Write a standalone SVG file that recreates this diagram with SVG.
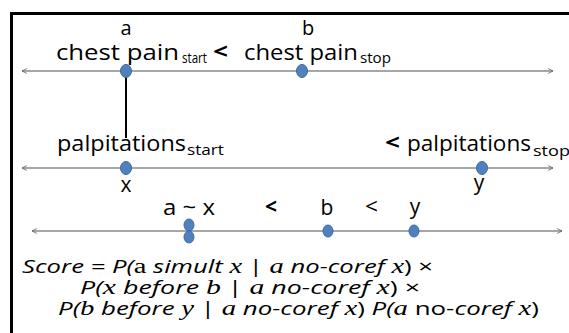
<svg xmlns="http://www.w3.org/2000/svg" width="569" height="333" viewBox="0 0 569 333">
  <style>
    .lbl { font-family: "Open Sans", "Liberation Sans", sans-serif; font-size: 21px; fill: #000; }
    .top { font-family: "Open Sans", "Liberation Sans", sans-serif; font-size: 20px; fill: #000; }
    .sub { font-family: "Open Sans", "Liberation Sans", sans-serif; fill: #000; }
    .lt { font-family: "Open Sans", "Liberation Sans", sans-serif; font-size: 21px; font-weight: bold; fill: #000; }
    .axis { stroke: #8a8a8a; stroke-width: 1.5; fill: none; }
    .dot { fill: #4f81bd; stroke: #3c6aa3; stroke-width: 1; }
    .f { font-family: "Open Sans", "Liberation Sans", sans-serif; font-size: 18px; fill: #000; }
    .it { font-style: italic; }
    .m { font-family: "Liberation Serif", "DejaVu Serif", serif; font-style: italic; font-size: 20px; }
    .mr { font-family: "Liberation Serif", "DejaVu Serif", serif; font-size: 20px; }
  </style>
  <defs>
    <marker id="arr" viewBox="0 0 10 10" refX="9" refY="5" markerWidth="6" markerHeight="6" markerUnits="userSpaceOnUse" orient="auto-start-reverse">
      <path d="M1,1 L9,5 L1,9" fill="none" stroke="#6a6a6a" stroke-width="1.5"/>
    </marker>
  </defs>
  <rect width="569" height="333" fill="#fff"/>
  <rect x="11.5" y="13.5" width="620" height="400" fill="none" stroke="#000" stroke-width="3"/>

  <g id="connectors">
    <line class="axis" x1="22" y1="71" x2="553" y2="71" marker-start="url(#arr)" marker-end="url(#arr)"/>
    <line class="axis" x1="22" y1="168" x2="553" y2="168" marker-start="url(#arr)" marker-end="url(#arr)"/>
    <line class="axis" x1="32" y1="231" x2="562" y2="231" marker-start="url(#arr)" marker-end="url(#arr)"/>
    <line x1="126" y1="77" x2="126" y2="138" stroke="#000" stroke-width="2"/>
  </g>

  <g id="chest-pain-start">
    <text class="top" x="126" y="35" text-anchor="middle">a</text>
    <text class="lbl" x="56" y="60" textLength="123" lengthAdjust="spacingAndGlyphs">chest pain</text>
    <text class="sub" x="182" y="63" font-size="14" textLength="25" lengthAdjust="spacingAndGlyphs">start</text>
    <ellipse class="dot" cx="126" cy="71" rx="5.5" ry="6.5"/>
  </g>
  <text class="lt" x="213" y="59" textLength="15" lengthAdjust="spacingAndGlyphs">&lt;</text>
  <g id="chest-pain-stop">
    <text class="top" x="308" y="35" text-anchor="middle">b</text>
    <text class="lbl" x="244" y="60" textLength="114" lengthAdjust="spacingAndGlyphs">chest pain</text>
    <text class="sub" x="360" y="63" font-size="14" textLength="31" lengthAdjust="spacingAndGlyphs">stop</text>
    <ellipse class="dot" cx="302" cy="71" rx="5.5" ry="6.5"/>
  </g>

  <g id="palpitations-start">
    <text class="lbl" x="57" y="151" textLength="129" lengthAdjust="spacingAndGlyphs">palpitations</text>
    <text class="sub" x="187" y="155" font-size="15" textLength="37" lengthAdjust="spacingAndGlyphs">start</text>
    <ellipse class="dot" cx="126" cy="168" rx="5.5" ry="6.5"/>
    <text class="lbl" x="126" y="192" text-anchor="middle">x</text>
  </g>
  <text class="lt" x="385" y="150" textLength="15" lengthAdjust="spacingAndGlyphs">&lt;</text>
  <g id="palpitations-stop">
    <text class="lbl" x="407" y="151" textLength="124" lengthAdjust="spacingAndGlyphs">palpitations</text>
    <text class="sub" x="533" y="156" font-size="15" textLength="37" lengthAdjust="spacingAndGlyphs">stop</text>
    <ellipse class="dot" cx="482" cy="168" rx="5.5" ry="6.5"/>
    <text class="lbl" x="479" y="190" text-anchor="middle">y</text>
  </g>

  <g id="merged-a-x">
    <text class="lbl" x="163" y="215" textLength="52" lengthAdjust="spacingAndGlyphs">a ~ x</text>
    <ellipse class="dot" cx="189" cy="225" rx="5" ry="6"/>
    <ellipse class="dot" cx="189" cy="237" rx="5" ry="6"/>
  </g>
  <text class="lt" x="265" y="214" textLength="12" lengthAdjust="spacingAndGlyphs">&lt;</text>
  <g id="merged-b">
    <text class="lbl" x="327" y="215" text-anchor="middle">b</text>
    <ellipse class="dot" cx="328" cy="231" rx="5" ry="6"/>
  </g>
  <text class="lbl" x="365" y="214" textLength="13" lengthAdjust="spacingAndGlyphs">&lt;</text>
  <g id="merged-y">
    <text class="lbl" x="415" y="214" text-anchor="middle">y</text>
    <ellipse class="dot" cx="414" cy="231" rx="5" ry="6"/>
  </g>

  <g id="score">
    <text class="f" x="22" y="273" textLength="411" lengthAdjust="spacingAndGlyphs"><tspan class="it">Score = P(</tspan><tspan class="mr">a</tspan><tspan class="it"> simult </tspan><tspan class="m">x</tspan><tspan> | </tspan><tspan class="m">a</tspan><tspan class="it"> no-coref </tspan><tspan class="m">x</tspan><tspan>) ×</tspan></text>
    <text class="f" x="80" y="294" textLength="340" lengthAdjust="spacingAndGlyphs"><tspan class="it">P(</tspan><tspan class="m">x</tspan><tspan class="it"> before </tspan><tspan class="m">b</tspan><tspan> | </tspan><tspan class="m">a</tspan><tspan class="it"> no-coref </tspan><tspan class="m">x</tspan><tspan>) ×</tspan></text>
    <text class="f" x="58" y="315" textLength="481" lengthAdjust="spacingAndGlyphs"><tspan class="it">P(</tspan><tspan class="m">b</tspan><tspan class="it"> before </tspan><tspan class="m">y</tspan><tspan> | </tspan><tspan class="m">a</tspan><tspan class="it"> no-coref </tspan><tspan class="m">x</tspan><tspan>) </tspan><tspan class="it">P(</tspan><tspan class="m">a</tspan><tspan> no-</tspan><tspan class="it">coref </tspan><tspan class="m">x</tspan><tspan>)</tspan></text>
  </g>
</svg>
